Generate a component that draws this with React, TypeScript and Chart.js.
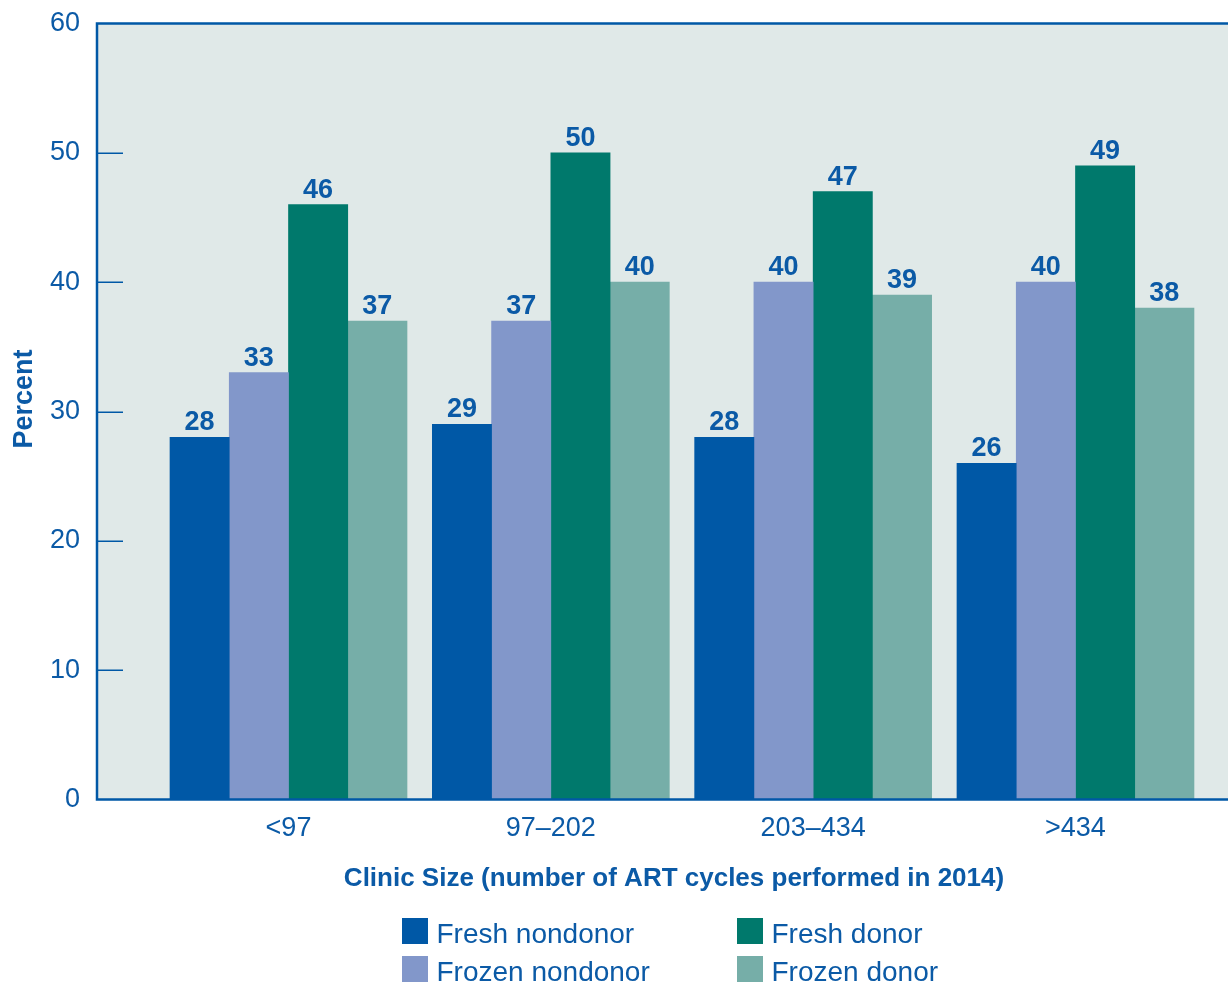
import React, { useEffect, useRef } from 'react';
import { Chart, registerables } from 'chart.js';

Chart.register(...registerables);

// ---- Data ----
const categories = ['<97', '97–202', '203–434', '>434'];
const seriesNames = ['Fresh nondonor', 'Frozen nondonor', 'Fresh donor', 'Frozen donor'];
const freshNondonor = [28, 29, 28, 26];
const frozenNondonor = [33, 37, 40, 40];
const freshDonor = [46, 50, 47, 49];
const frozenDonor = [37, 40, 39, 38];
const yTickStep = 10;
const yMin = 0;
const yMax = 60;
const xTitle = 'Clinic Size (number of ART cycles performed in 2014)';
const yTitle = 'Percent';

// ---- Styles ----
const FONT = '"Liberation Sans", Arial, Helvetica, sans-serif';
const BLUE = '#0058A6';
const TEXT = '#0B5AA6';
const BG = '#E0E9E8';
const seriesColors = ['#0058A6', '#8297CA', '#00796C', '#76AEA8'];

const framePlugin = {
  id: 'frame',
  beforeDraw(chart: any) {
    const { ctx, chartArea: a } = chart;
    ctx.save();
    ctx.fillStyle = BG;
    ctx.fillRect(a.left, a.top, a.right - a.left, a.bottom - a.top);
    ctx.restore();
  },
  afterDatasetsDraw(chart: any) {
    const { ctx, chartArea: a, scales } = chart;
    const y = scales.y;
    ctx.save();
    // inner tick marks
    ctx.strokeStyle = BLUE;
    ctx.lineWidth = 1.5;
    const ticks = y.ticks;
    ticks.forEach((t: any, i: number) => {
      if (i === 0 || i === ticks.length - 1) return;
      const py = Math.round(y.getPixelForValue(t.value)) + 0.25;
      ctx.beginPath();
      ctx.moveTo(a.left, py);
      ctx.lineTo(a.left + 26, py);
      ctx.stroke();
    });
    // frame lines
    ctx.lineWidth = 2.5;
    ctx.beginPath();
    ctx.moveTo(a.right + 2, a.top);
    ctx.lineTo(a.left, a.top);
    ctx.lineTo(a.left, a.bottom);
    ctx.lineTo(a.right + 2, a.bottom);
    ctx.stroke();
    // value labels
    ctx.font = `bold 27px ${FONT}`;
    ctx.fillStyle = TEXT;
    ctx.textAlign = 'center';
    ctx.textBaseline = 'alphabetic';
    chart.data.datasets.forEach((ds: any, i: number) => {
      const meta = chart.getDatasetMeta(i);
      meta.data.forEach((bar: any, j: number) => {
        const v = ds.data[j].y;
        ctx.fillText(String(v), bar.x, bar.y - 7);
      });
    });
    ctx.restore();
  },
  afterDraw(chart: any) {
    const { ctx } = chart;
    ctx.save();
    ctx.fillStyle = TEXT;
    // x-axis title
    ctx.font = `bold 26px ${FONT}`;
    ctx.textAlign = 'center';
    ctx.textBaseline = 'alphabetic';
    ctx.fillText(xTitle, 674, 885.5);
    // y-axis title
    ctx.save();
    ctx.translate(32, 399);
    ctx.rotate(-Math.PI / 2);
    ctx.font = `bold 27px ${FONT}`;
    ctx.fillText(yTitle, 0, 0);
    ctx.restore();
    // legend (2 x 2)
    const cols = [402, 737];
    const rows = [918, 956];
    ctx.font = `28px ${FONT}`;
    ctx.textAlign = 'left';
    seriesNames.forEach((name, i) => {
      const col = i === 0 || i === 1 ? 0 : 1;
      const row = i % 2;
      const x = cols[col];
      const y = rows[row];
      ctx.fillStyle = seriesColors[i];
      ctx.fillRect(x, y, 26, 26);
      ctx.fillStyle = TEXT;
      ctx.fillText(name, x + 34.5, y + 24.7);
    });
    ctx.restore();
  },
};

export default function App() {
  const canvasRef = useRef<HTMLCanvasElement | null>(null);

  useEffect(() => {
    document.body.style.margin = '0';
    const canvas = canvasRef.current;
    if (!canvas) return;
    Chart.defaults.font.family = FONT;

    const seriesValues = [freshNondonor, frozenNondonor, freshDonor, frozenDonor];
    const datasets = seriesNames.map((name, i) => ({
      label: name,
      data: seriesValues[i].map((v, j) => ({ x: j, y: v })),
      backgroundColor: seriesColors[i],
      borderWidth: 0,
      barThickness: 59.25,
    }));

    const chart = new Chart(canvas, {
      type: 'bar',
      data: { datasets },
      options: {
        animation: false,
        responsive: true,
        maintainAspectRatio: false,
        layout: { padding: { top: 23.5, left: 0, right: 0, bottom: 0 } },
        plugins: {
          legend: { display: false },
          tooltip: { enabled: false },
          title: { display: false },
        },
        scales: {
          x: {
            type: 'linear',
            min: -0.73,
            max: 3.5814,
            offset: false,
            grid: { display: false, drawTicks: false },
            border: { display: false },
            ticks: {
              font: { size: 27, family: FONT, lineHeight: 1 },
              color: TEXT,
              padding: 16,
              maxRotation: 0,
              autoSkip: false,
              callback: (v: any) => categories[v] ?? '',
            },
            afterBuildTicks: (s: any) => {
              s.ticks = categories.map((_, i) => ({ value: i }));
            },
            afterFit: (s: any) => {
              s.height = 183.5;
            },
          },
          y: {
            min: yMin,
            max: yMax,
            grid: { display: false, drawTicks: false },
            border: { display: false },
            ticks: {
              stepSize: yTickStep,
              font: { size: 27, family: FONT, lineHeight: 0.45 },
              color: TEXT,
              padding: 17,
            },
            afterFit: (s: any) => {
              s.width = 97;
            },
          },
        },
      } as any,
      plugins: [framePlugin],
    });
    return () => chart.destroy();
  }, []);

  return (
    <div style={{ position: 'absolute', left: 0, top: 0, width: 1228, height: 983 }}>
      <canvas ref={canvasRef} />
    </div>
  );
}
